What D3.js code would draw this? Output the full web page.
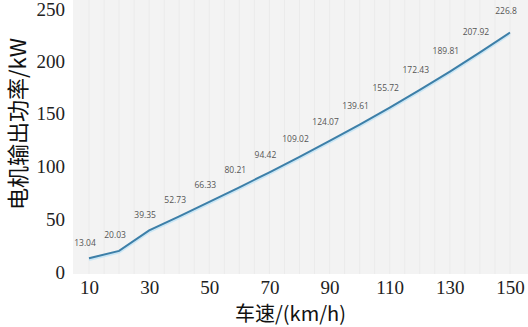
<!DOCTYPE html>
<html>
<head>
<meta charset="utf-8">
<script src="https://cdn.jsdelivr.net/npm/d3@7"></script>
<style>
  html, body { margin: 0; padding: 0; background: #fff; }
  svg { display: block; }
  .tick text { font-family: "Liberation Serif", "DejaVu Serif", Tinos, "Times New Roman", Times, serif !important; }
</style>
</head>
<body>
<svg></svg>
<script>
let speeds = [10, 20, 30, 40, 50, 60, 70, 80, 90, 100, 110, 120, 130, 140, 150]
let powers = [13.04, 20.03, 39.35, 52.73, 66.33, 80.21, 94.42, 109.02, 124.07, 139.61, 155.72, 172.43, 189.81, 207.92, 226.8]
let labels = ['13.04', '20.03', '39.35', '52.73', '66.33', '80.21', '94.42', '109.02', '124.07', '139.61', '155.72', '172.43', '189.81', '207.92', '226.8']
let xTicks = [10, 30, 50, 70, 90, 110, 130, 150]
let yTicks = [0, 50, 100, 150, 200, 250]

let width = 528
let height = 327

let svg = d3.select('svg')
  .attr('width', width)
  .attr('height', height)

let xScale = d3.scaleLinear().domain([10, 150]).range([89, 510])
let yScale = d3.scaleLinear().domain([0, 250]).range([272, 8])

// plot background
svg.append('rect')
  .attr('x', 73)
  .attr('y', 0)
  .attr('width', 455)
  .attr('height', 274)
  .attr('fill', '#f3f3f3')

// faint vertical stripes
svg.append('g')
  .selectAll('line')
  .data(d3.range(10, 151, 5))
  .enter()
  .append('line')
  .attr('x1', (d) => xScale(d))
  .attr('x2', (d) => xScale(d))
  .attr('y1', 0)
  .attr('y2', 274)
  .attr('stroke', '#ebebeb')
  .attr('stroke-width', 1)

let xAxis = d3.axisBottom(xScale).tickValues(xTicks).tickSize(0).tickPadding(4)
let yAxis = d3.axisLeft(yScale).tickValues(yTicks).tickSize(0).tickPadding(6)

let gx = svg.append('g')
  .attr('transform', 'translate(0, 277)')
  .call(xAxis)
let gy = svg.append('g')
  .attr('transform', 'translate(71, 0)')
  .call(yAxis)

gx.select('.domain').remove()
gy.select('.domain').remove()
gx.attr('font-family', null).attr('font-size', null)
gy.attr('font-family', null).attr('font-size', null)
svg.selectAll('.tick text')
  .attr('font-size', '19px')
  .attr('fill', '#222')
gy.selectAll('.tick text').attr('dy', '0.33em')
gy.selectAll('.tick').filter((d) => d === 250).select('text').attr('dy', '0.4em')

// line
let pts = speeds.map((s, i) => [s, powers[i]])
let line = d3.line()
  .x((d) => xScale(d[0]))
  .y((d) => yScale(d[1]))

svg.append('path')
  .datum(pts)
  .attr('d', line)
  .attr('transform', 'translate(0, 1.5)')
  .attr('fill', 'none')
  .attr('stroke', '#c9e6f5')
  .attr('stroke-width', 2.5)

svg.append('path')
  .datum(pts)
  .attr('d', line)
  .attr('fill', 'none')
  .attr('stroke', '#3d7fa8')
  .attr('stroke-width', 2)

// data labels
svg.append('g')
  .selectAll('text')
  .data(pts)
  .enter()
  .append('text')
  .attr('x', (d) => xScale(d[0]) - 4)
  .attr('y', (d, i) => yScale(d[1]) - 12 - i * 0.45)
  .attr('text-anchor', 'middle')
  .attr('font-family', '"Open Sans", "Noto Sans", sans-serif')
  .attr('font-size', '8.5px')
  .attr('fill', '#555')
  .text((d, i) => labels[i])

// axis titles
svg.append('text')
  .attr('transform', 'translate(26, 124) rotate(-90)')
  .attr('text-anchor', 'middle')
  .attr('font-family', '"Noto Sans CJK SC", sans-serif')
  .attr('font-size', '22px')
  .attr('fill', '#111')
  .text('电机输出功率/kW')

svg.append('text')
  .attr('x', 235)
  .attr('y', 321)
  .attr('font-family', '"Noto Sans CJK SC", sans-serif')
  .attr('font-size', '20px')
  .attr('fill', '#111')
  .text('车速/(km/h)')
</script>
</body>
</html>
